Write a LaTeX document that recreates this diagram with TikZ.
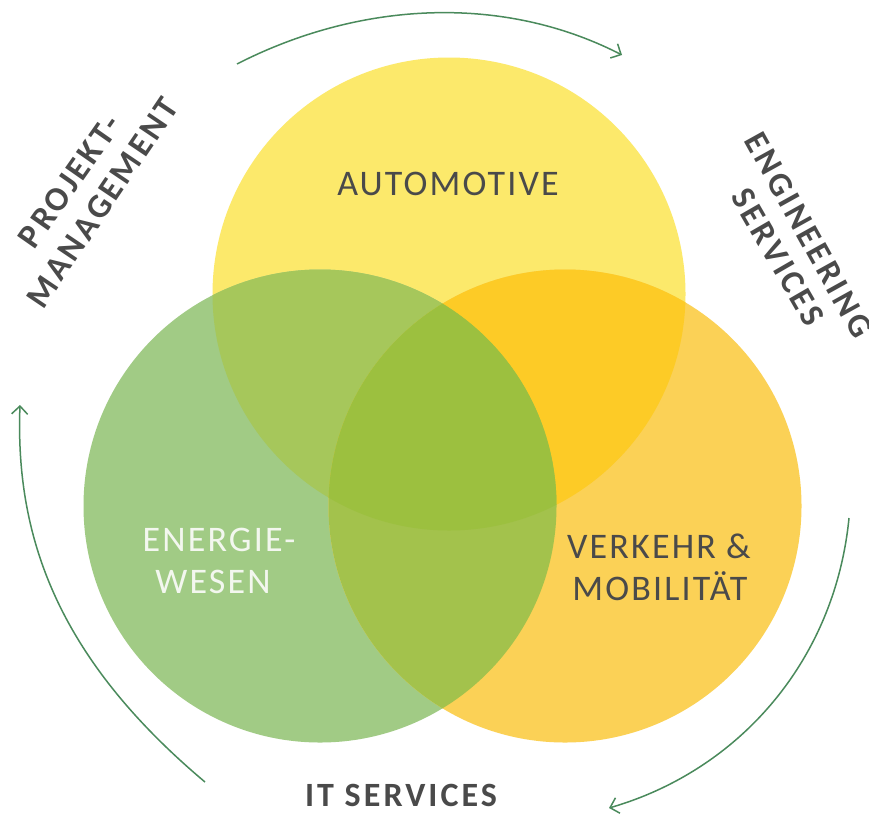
\documentclass[tikz,border=0pt]{standalone}
\usepackage{fontspec}
\setmainfont{Carlito}
\newfontfamily\lblfont[LetterSpace=6]{Carlito}
\newfontfamily\boldlblfont[LetterSpace=9]{Carlito Bold}
\usetikzlibrary{arrows.meta}
\definecolor{cy}{HTML}{FCE96B}
\definecolor{cg}{HTML}{A1CB85}
\definecolor{co}{HTML}{FBD156}
\definecolor{cyo}{HTML}{FDCB26}
\definecolor{cyg}{HTML}{A6C75B}
\definecolor{cgo}{HTML}{A3C24C}
\definecolor{cmid}{HTML}{9CC03F}
\definecolor{txt}{HTML}{4A4A4A}
\definecolor{wtxt}{HTML}{F3F7EF}
\definecolor{arr}{HTML}{4A8A5C}
\tikzset{
  lbl/.style={font=\lblfont\fontsize{36}{42}\selectfont, text=txt, text height=0.644em, text depth=0pt, inner sep=0pt},
  wlbl/.style={lbl, text=wtxt},
  blbl/.style={font=\boldlblfont\fontsize{34}{40}\selectfont, text=txt, text height=0.644em, text depth=0pt, inner sep=0pt},
  cyc/.style={draw=arr, line width=1.5pt, -{Straight Barb[length=8pt,width=16pt,line width=1.5pt]}}
}
\begin{document}
\begin{tikzpicture}[x=1pt,y=-1pt]
\useasboundingbox (0,0) rectangle (869,817);
\fill[white] (0,0) rectangle (869,817);
\coordinate (cY) at (449,294);
\coordinate (cG) at (320,506);
\coordinate (cO) at (565,506);
\def\R{236.5pt}
% base circles
\fill[cy] (cY) circle[radius=\R];
\fill[cg] (cG) circle[radius=\R];
\fill[co] (cO) circle[radius=\R];
% pairwise overlaps
\begin{scope}\clip (cY) circle[radius=\R]; \fill[cyg] (cG) circle[radius=\R];\end{scope}
\begin{scope}\clip (cY) circle[radius=\R]; \fill[cyo] (cO) circle[radius=\R];\end{scope}
\begin{scope}\clip (cG) circle[radius=\R]; \fill[cgo] (cO) circle[radius=\R];\end{scope}
\begin{scope}\clip (cY) circle[radius=\R]; \clip (cG) circle[radius=\R]; \fill[cmid] (cO) circle[radius=\R];\end{scope}
% circle labels
\node[lbl] (auto) at (448,192) {AUTOMOTIVE};
\node[wlbl] (ener1) at (219,548) {ENERGIE-};
\node[wlbl] (ener2) at (213,590) {WESEN};
\node[lbl] (verk1) at (659,555) {VERKEHR \&};
\node[lbl] (verk2) at (660,597) {MOBILITÄT};
% outer labels
\node[blbl] (its) at (401,803) {IT SERVICES};
\node[blbl, rotate=55] (pm1) at (76,186) {PROJEKT-};
\node[blbl, rotate=56] (pm2) at (109,207) {MANAGEMENT};
\node[blbl, rotate=-61] (es1) at (802,239) {ENGINEERING};
\node[blbl, rotate=-60] (es2) at (771,261) {SERVICES};
% cycle arrows
\coordinate (t0) at (237,64);
\coordinate (t1) at (622,55);
\coordinate (r0) at (849,518);
\coordinate (r1) at (609,808);
\coordinate (l0) at (205,782);
\coordinate (l1) at (20,405);
\draw[cyc] (t0) .. controls (358,2) and (501,-7) .. (t1);
\draw[cyc] (r0) .. controls (835,660) and (740,770) .. (r1);
\draw[cyc] (l0) .. controls (60,660) and (15,540) .. (l1);
\end{tikzpicture}
\end{document}
